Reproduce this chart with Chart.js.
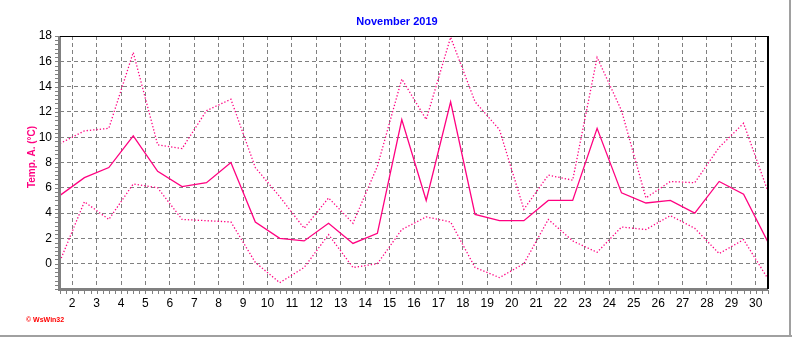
<!DOCTYPE html>
<html>
<head>
<meta charset="utf-8">
<title>November 2019</title>
<script src="https://cdn.jsdelivr.net/npm/chart.js@4/dist/chart.umd.min.js"></script>
<style>
  html, body { margin: 0; padding: 0; background: #fff; }
  #wrap { position: relative; width: 792px; height: 337px; }
</style>
</head>
<body>
<div id="wrap"><canvas id="tempChart" width="792" height="337"></canvas></div>
<script>
// daily air temperature, November 2019
const days = [1, 2, 3, 4, 5, 6, 7, 8, 9, 10, 11, 12, 13, 14, 15, 16, 17, 18, 19, 20, 21, 22, 23, 24, 25, 26, 27, 28, 29, 30];
const tempMax = [9.5, 10.5, 10.7, 16.7, 9.4, 9.1, 12.1, 13.0, 7.6, 5.3, 2.8, 5.2, 3.2, 7.7, 14.6, 11.4, 17.9, 12.8, 10.6, 4.3, 7.0, 6.6, 16.3, 12.1, 5.2, 6.5, 6.4, 9.2, 11.1, 5.7];
const tempMean = [5.4, 6.8, 7.6, 10.1, 7.3, 6.1, 6.4, 8.0, 3.3, 2.0, 1.8, 3.2, 1.6, 2.4, 11.4, 5.0, 12.8, 3.9, 3.4, 3.4, 5.0, 5.0, 10.7, 5.6, 4.8, 5.0, 4.0, 6.5, 5.5, 1.7];
const tempMin = [0.2, 4.9, 3.5, 6.3, 6.0, 3.5, 3.4, 3.3, 0.1, -1.5, -0.3, 2.3, -0.3, 0.0, 2.7, 3.7, 3.3, -0.3, -1.1, 0.0, 3.5, 1.8, 0.9, 2.9, 2.7, 3.8, 2.8, 0.8, 1.9, -1.2];
const xTicks = [2, 3, 4, 5, 6, 7, 8, 9, 10, 11, 12, 13, 14, 15, 16, 17, 18, 19, 20, 21, 22, 23, 24, 25, 26, 27, 28, 29, 30];
const yTicks = [0, 2, 4, 6, 8, 10, 12, 14, 16, 18];

const FONT = "'Liberation Sans', Arial, sans-serif";
const PINK = '#FF0080';

// each day's value sits at noon of that day
function toPoints(values) {
    return days.map((d, i) => ({ x: d + 0.5, y: values[i] }));
}

// frame, minor ticks and the texts around the plot
const decorations = {
    id: 'decorations',
    afterDatasetsDraw(chart) {
        const ctx = chart.ctx;
        const a = chart.chartArea;
        const xs = chart.scales.x;
        const ys = chart.scales.y;
        ctx.save();

        // minor ticks
        ctx.strokeStyle = '#808080';
        ctx.lineWidth = 1;
        ctx.beginPath();
        for (let v = 1.5; v <= 30.5001; v += 0.25) {
            const px = Math.round(xs.getPixelForValue(v)) + 0.5;
            ctx.moveTo(px, a.bottom + 1);
            ctx.lineTo(px, a.bottom + 5);
        }
        for (let k = 0; k <= 60; k++) {
            const py = Math.round(ys.getPixelForValue(-2 + k / 3)) + 0.5;
            ctx.moveTo(a.left - 5, py);
            ctx.lineTo(a.left - 1, py);
        }
        ctx.stroke();

        // plot frame: gray left/bottom, black top/right
        ctx.fillStyle = '#808080';
        ctx.fillRect(a.left - 2, a.top, 3, a.bottom - a.top + 2);
        ctx.fillRect(a.left - 2, a.bottom - 1, a.right - a.left + 2, 3);
        ctx.fillStyle = '#000';
        ctx.fillRect(a.left, a.top, a.right - a.left + 1, 1);
        ctx.fillRect(a.right - 1, a.top, 2, a.bottom - a.top);

        // outer panel edge
        ctx.fillStyle = '#A0A0A0';
        ctx.fillRect(789, 0, 2, 337);
        ctx.fillRect(0, 335, 792, 2);

        // title
        ctx.fillStyle = '#0000FF';
        ctx.font = 'bold 11px ' + FONT;
        ctx.textAlign = 'center';
        ctx.textBaseline = 'middle';
        ctx.fillText('November 2019', 397, 22);

        // y axis title
        ctx.save();
        ctx.translate(32, 157);
        ctx.rotate(-Math.PI / 2);
        ctx.fillStyle = PINK;
        ctx.font = 'bold 10px ' + FONT;
        ctx.fillText('Temp. A. (°C)', 0, 0);
        ctx.restore();

        // program mark
        ctx.fillStyle = '#FF0000';
        ctx.font = 'bold 7px ' + FONT;
        ctx.textAlign = 'left';
        ctx.fillText('© WsWin32', 26, 320);

        ctx.restore();
    }
};

const ctx = document.getElementById('tempChart').getContext('2d');
new Chart(ctx, {
    type: 'line',
    data: {
        datasets: [
            { label: 'Max', data: toPoints(tempMax), borderColor: PINK, borderWidth: 1.3, borderDash: [1.3, 2], pointRadius: 0, fill: false, tension: 0 },
            { label: 'Mean', data: toPoints(tempMean), borderColor: PINK, borderWidth: 1.3, pointRadius: 0, fill: false, tension: 0 },
            { label: 'Min', data: toPoints(tempMin), borderColor: PINK, borderWidth: 1.3, borderDash: [1.3, 2], pointRadius: 0, fill: false, tension: 0 }
        ]
    },
    options: {
        responsive: false,
        animation: false,
        events: [],
        layout: { padding: { top: 36, right: 24, left: 0, bottom: 0 } },
        plugins: {
            legend: { display: false },
            title: { display: false },
            tooltip: { enabled: false }
        },
        scales: {
            x: {
                type: 'linear',
                min: 1.5,
                max: 30.5,
                afterBuildTicks: (scale) => { scale.ticks = xTicks.map(v => ({ value: v })); },
                afterFit: (scale) => { scale.height = 48; },
                grid: { color: '#808080', lineWidth: 1, drawTicks: false },
                border: { display: false, dash: [4, 3] },
                ticks: { color: '#000', font: { family: FONT, size: 12 }, padding: 7, maxRotation: 0, autoSkip: false }
            },
            y: {
                type: 'linear',
                min: -2,
                max: 18,
                afterBuildTicks: (scale) => { scale.ticks = yTicks.map(v => ({ value: v })); },
                afterFit: (scale) => { scale.width = 60; },
                grid: { color: '#808080', lineWidth: 1, drawTicks: false },
                border: { display: false, dash: [4, 3] },
                ticks: { color: '#000', font: { family: FONT, size: 12 }, padding: 8 }
            }
        }
    },
    plugins: [decorations]
});
</script>
</body>
</html>
